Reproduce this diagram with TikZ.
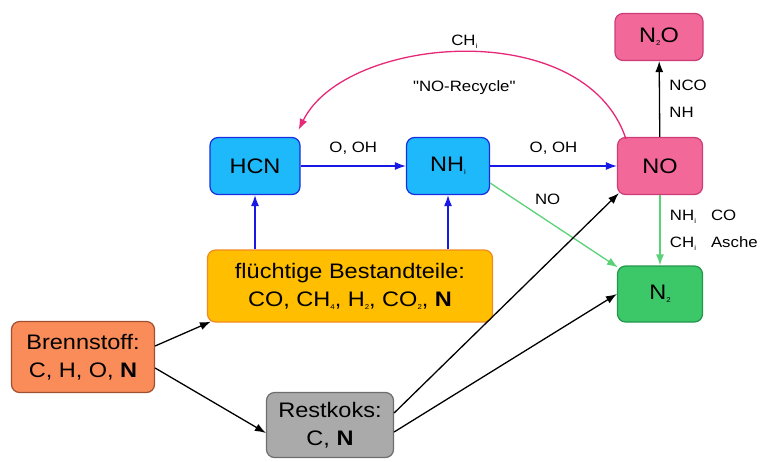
\documentclass[tikz,border=0pt]{standalone}
\usepackage{fontspec}
\setmainfont{Liberation Sans}[FakeStretch=1.12, Ligatures=TeXOff]
\usepackage{xcolor}
\usepackage{tikz}
\usetikzlibrary{arrows.meta,positioning}

\definecolor{blaufill}{RGB}{30,185,250}
\definecolor{blaurand}{RGB}{25,45,225}
\definecolor{blaupfeil}{RGB}{25,25,230}
\definecolor{rosafill}{RGB}{242,104,152}
\definecolor{rosarand}{RGB}{205,60,120}
\definecolor{rosapfeil}{RGB}{230,40,120}
\definecolor{gruenfill}{RGB}{60,200,105}
\definecolor{gruenrand}{RGB}{35,150,75}
\definecolor{gruenpfeil}{RGB}{90,210,120}
\definecolor{gelbfill}{RGB}{255,190,0}
\definecolor{gelbrand}{RGB}{240,140,30}
\definecolor{orangefill}{RGB}{250,140,90}
\definecolor{orangerand}{RGB}{160,80,50}
\definecolor{graufill}{RGB}{170,170,170}
\definecolor{graurand}{RGB}{110,110,110}

\newcommand{\kl}[1]{\raisebox{-3pt}{\fontsize{7}{7}\selectfont #1}}

\begin{document}
\begin{tikzpicture}[x=1pt, y=-1pt, font=\fontsize{21}{28}\selectfont,
  box/.style={draw, line width=1.2pt, rounded corners=8pt, align=center, inner sep=2pt},
  blaubox/.style={box, fill=blaufill, draw=blaurand, minimum height=57pt},
  rosabox/.style={box, fill=rosafill, draw=rosarand},
  lbl/.style={font=\fontsize{15}{27}\selectfont, text=black},
  arr/.style={-{Latex[length=11pt,width=8pt]}, line width=1.3pt}]
  \useasboundingbox (0,0) rectangle (765,461);
  \node[blaubox, minimum width=90pt] (hcn) at (255,166) {HCN};
  \node[blaubox, minimum width=83pt] (nhi) at (448,166) {NH\kl{i}};
  \node[rosabox, minimum width=85pt, minimum height=57pt] (no) at (660,166) {NO};
  \node[rosabox, minimum width=88pt, minimum height=47pt] (ntwoo) at (659,37) {N\kl{2}O};
  \node[box, fill=gruenfill, draw=gruenrand, minimum width=85pt, minimum height=56pt] (ntwo) at (660,294) {N\kl{2}};
  \node[box, fill=gelbfill, draw=gelbrand, minimum width=285pt, minimum height=72pt] (fluechtig) at (350,286)
    {flüchtige Bestandteile:\\CO, CH\kl{4}, H\kl{2}, CO\kl{2}, \textbf{N}};
  \node[box, fill=orangefill, draw=orangerand, minimum width=143pt, minimum height=71pt] (brenn) at (83,357)
    {Brennstoff:\\C, H, O, \textbf{N}};
  \node[box, fill=graufill, draw=graurand, minimum width=127pt, minimum height=65pt] (rest) at (330,425)
    {Restkoks:\\C, \textbf{N}};
  \draw[arr, blaupfeil] (hcn) -- node[lbl, above=8pt]{O, OH} (nhi);
  \draw[arr, blaupfeil] (nhi) -- node[lbl, above=8pt]{O, OH} (no);
  \draw[arr, blaupfeil] (fluechtig.north -| hcn) -- (hcn);
  \draw[arr, blaupfeil] (fluechtig.north -| nhi) -- (nhi);
  \draw[arr, gruenpfeil] ([yshift=-17pt]nhi.east) -- node[lbl, pos=0.45, above=12pt]{NO} ([xshift=1pt,yshift=-2pt]ntwo.north west);
  \draw[arr, gruenpfeil] (no) -- node[lbl, right=6pt, align=left]{NH\kl{i}\quad CO\\CH\kl{i}\quad Asche} (ntwo);
  \draw[arr] (no) -- node[lbl, right=6pt, align=left]{NCO\\NH} (ntwoo);
  \draw[arr, rosapfeil] ([xshift=9pt,yshift=-2pt]no.north west) .. controls (585,15) and (345,35) ..
    node[lbl, above]{CH\kl{i}} node[lbl, below=24pt]{"NO-Recycle"}
    ([xshift=-2pt,yshift=7pt]hcn.north east);
  \draw[arr] ([yshift=11pt]brenn.east) -- ([xshift=4pt,yshift=1pt]fluechtig.south west);
  \draw[arr] ([yshift=-11pt]brenn.east) -- ([yshift=-8pt]rest.west);
  \draw[arr] ([yshift=12pt]rest.east) -- ([xshift=2pt,yshift=2pt]no.south west);
  \draw[arr] ([yshift=-7pt]rest.east) -- (ntwo.west);
\end{tikzpicture}
\end{document}
